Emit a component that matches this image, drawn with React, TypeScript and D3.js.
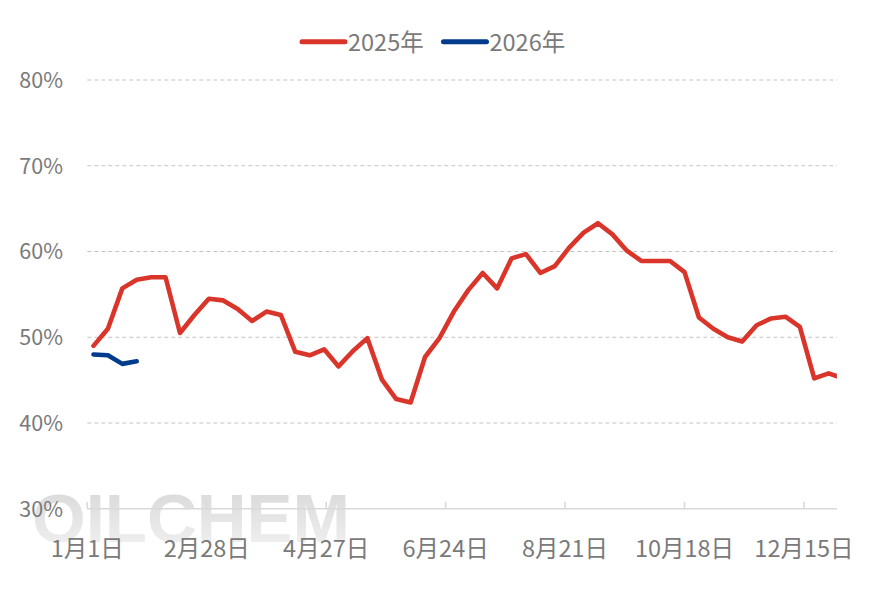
import React from 'react';
import * as d3 from 'd3';

// Weekly values (%), 2025 series (first week ~Jan 4) and 2026 series (same calendar weeks)
const series2025 = [
  49.0, 51.0, 55.7, 56.7, 57.0, 57.0, 50.5, 52.6, 54.5, 54.3,
  53.3, 51.9, 53.0, 52.6, 48.3, 47.9, 48.6, 46.6, 48.4, 49.9,
  45.1, 42.8, 42.4, 47.7, 49.9, 53.0, 55.5, 57.5, 55.7, 59.2,
  59.7, 57.5, 58.3, 60.45, 62.2, 63.3, 62.0, 60.1, 58.9, 58.9,
  58.9, 57.6, 52.3, 51.0, 50.0, 49.5, 51.4, 52.2, 52.4, 51.2,
  45.2, 45.8, 45.2,
];
const series2026 = [48.0, 47.9, 46.9, 47.2];
const seriesNames = ['2025年', '2026年'];
const seriesColors = ['#d9352a', '#003b8c'];
const firstWeek = '2025-01-04';
const axisStart = '2025-01-01';
const axisEnd = '2025-12-31';
const tickDates = ['2025-01-01', '2025-02-28', '2025-04-27', '2025-06-24', '2025-08-21', '2025-10-18', '2025-12-15'];
const tickLabels = ['1月1日', '2月28日', '4月27日', '6月24日', '8月21日', '10月18日', '12月15日'];
const yTicks = [30, 40, 50, 60, 70, 80];

const W = 888;
const H = 593;
const FONT = '"Microsoft YaHei", "Noto Sans CJK SC", sans-serif';
const TEXT = '#7a7a7a';

export default function App() {
  const parse = d3.utcParse('%Y-%m-%d');
  const x = d3.scaleUtc().domain([parse(axisStart)!, parse(axisEnd)!]).range([87.3, 836.9]);
  const y = d3.scaleLinear().domain([30, 80]).range([508.8, 80]);
  const start = parse(firstWeek)!;
  const weekDate = (i: number) => d3.utcDay.offset(start, 7 * i);

  const line = d3
    .line<number>()
    .x((_, i) => x(weekDate(i)))
    .y((d) => y(d));

  const [x0, x1] = x.range();

  return (
    <svg
      width={W}
      height={H}
      style={{ position: 'absolute', left: 0, top: 0, background: '#fff' }}
      fontFamily={FONT}
    >
      <defs>
        <clipPath id="plot">
          <rect x={x0} y={60} width={x1 - x0} height={470} />
        </clipPath>
        <linearGradient id="wm" x1="0" y1="0" x2="0" y2="1">
          <stop offset="0" stopColor="#d6d6d6" />
          <stop offset="1" stopColor="#f3f3f3" />
        </linearGradient>
      </defs>
      <rect width={W} height={H} fill="#fff" />

      {/* watermark */}
      <text
        x={32}
        y={542}
        fontSize={68}
        fontWeight={700}
        fontFamily='"Liberation Sans", Arial, sans-serif'
        fill="url(#wm)"
        textLength={318}
        lengthAdjust="spacingAndGlyphs"
      >
        OILCHEM
      </text>

      {/* gridlines */}
      {yTicks
        .filter((t) => t > 30)
        .map((t) => (
          <line
            key={t}
            x1={x0}
            x2={x1}
            y1={y(t)}
            y2={y(t)}
            stroke="#c4c4c4"
            strokeWidth={1}
            strokeDasharray="4 3"
          />
        ))}

      {/* x axis */}
      <line x1={x0} x2={x1} y1={y(30)} y2={y(30)} stroke="#d9d9d9" strokeWidth={1.6} />
      {tickDates.map((d, i) => {
        const xx = x(parse(d)!);
        return (
          <g key={d}>
            <line x1={xx} x2={xx} y1={y(30)} y2={y(30) - 7} stroke="#d9d9d9" strokeWidth={1.6} />
            <text x={xx} y={556.5} textAnchor="middle" fontSize={23.5} fill={TEXT}>
              {tickLabels[i]}
            </text>
          </g>
        );
      })}

      {/* y labels */}
      {yTicks.map((t) => (
        <text key={t} x={63} y={y(t)} dy="0.36em" textAnchor="end" fontSize={21.5} fill={TEXT}>
          {t}%
        </text>
      ))}

      {/* series */}
      <g clipPath="url(#plot)">
        <path
          d={line(series2025) ?? ''}
          fill="none"
          stroke={seriesColors[0]}
          strokeWidth={4.6}
          strokeLinejoin="round"
          strokeLinecap="round"
        />
        <path
          d={line(series2026) ?? ''}
          fill="none"
          stroke={seriesColors[1]}
          strokeWidth={4.6}
          strokeLinejoin="round"
          strokeLinecap="round"
        />
      </g>

      {/* legend */}
      {seriesNames.map((name, i) => {
        const lx = i === 0 ? 302 : 443.5;
        return (
          <g key={name}>
            <line
              x1={lx}
              x2={lx + 43}
              y1={41.7}
              y2={41.7}
              stroke={seriesColors[i]}
              strokeWidth={5}
              strokeLinecap="round"
            />
            <text x={lx + 46} y={50.5} fontSize={23.5} fill={TEXT}>
              {name}
            </text>
          </g>
        );
      })}
    </svg>
  );
}
